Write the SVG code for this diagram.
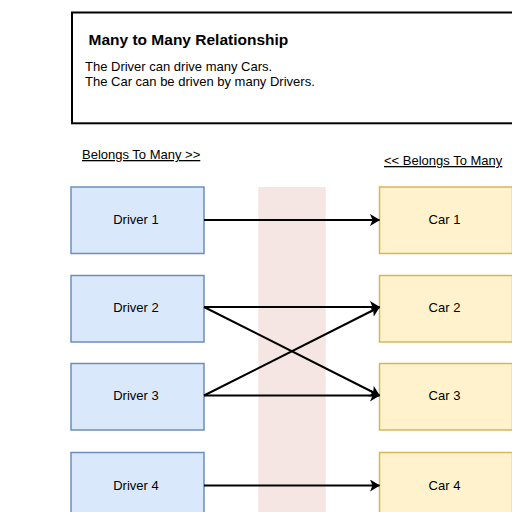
<svg xmlns="http://www.w3.org/2000/svg" width="512" height="512" viewBox="0 0 512 512">
<defs>
<style>
text{font-family:"Liberation Sans",Arial,sans-serif;fill:#000}
.lbl{font-size:13px;text-anchor:middle}
.drv{fill:#dae8fc;stroke:#6c8ebf;stroke-width:1.5}
.car{fill:#fff2cc;stroke:#d6b656;stroke-width:1.5}
.edge{fill:none;stroke:#000;stroke-width:2;marker-end:url(#arr)}
</style>
<marker id="arr" viewBox="0 0 10 12" refX="9.5" refY="6" markerWidth="10" markerHeight="12" markerUnits="userSpaceOnUse" orient="auto">
<path d="M0,0 L10,6 L0,12 L2.5,6 Z" fill="#000"/>
</marker>
</defs>
<rect x="0" y="0" width="512" height="512" fill="#fff"/>
<g id="band"><rect x="258.3" y="187" width="67.4" height="330" fill="#f5e6e3"/></g>
<g id="title">
<rect x="72" y="12.5" width="450" height="110.8" fill="#fff" stroke="#000" stroke-width="2"/>
<text x="88.5" y="45" font-size="15.5px" font-weight="bold">Many to Many Relationship</text>
<text x="85" y="71" font-size="13px">The Driver can drive many Cars.</text>
<text x="85" y="86" font-size="13px">The Car can be driven by many Drivers.</text>
</g>
<g id="label-left"><text x="82" y="159" font-size="13px" text-decoration="underline">Belongs To Many &gt;&gt;</text></g>
<g id="label-right"><text x="384" y="165" font-size="13px" text-decoration="underline">&lt;&lt; Belongs To Many</text></g>
<g id="driver1"><rect class="drv" x="71" y="187" width="133" height="66.5"/><text class="lbl" x="136" y="224">Driver 1</text></g>
<g id="driver2"><rect class="drv" x="71" y="275.5" width="133" height="66.5"/><text class="lbl" x="136" y="311.5">Driver 2</text></g>
<g id="driver3"><rect class="drv" x="71" y="363.5" width="133" height="66.5"/><text class="lbl" x="136" y="399.5">Driver 3</text></g>
<g id="driver4"><rect class="drv" x="71" y="452.5" width="133" height="66.5"/><text class="lbl" x="136" y="489.5">Driver 4</text></g>
<g id="car1"><rect class="car" x="379.5" y="187" width="133" height="66.5"/><text class="lbl" x="444.5" y="224">Car 1</text></g>
<g id="car2"><rect class="car" x="379.5" y="275.5" width="133" height="66.5"/><text class="lbl" x="444.5" y="311.5">Car 2</text></g>
<g id="car3"><rect class="car" x="379.5" y="363.5" width="133" height="66.5"/><text class="lbl" x="444.5" y="399.5">Car 3</text></g>
<g id="car4"><rect class="car" x="379.5" y="452.5" width="133" height="66.5"/><text class="lbl" x="444.5" y="489.5">Car 4</text></g>
<g id="connectors">
<path class="edge" d="M204,220 L379.5,220"/>
<path class="edge" d="M204,307 L379.5,307"/>
<path class="edge" d="M204,307 L379.5,395.5"/>
<path class="edge" d="M204,395.5 L379.5,307"/>
<path class="edge" d="M204,395.5 L379.5,395.5"/>
<path class="edge" d="M204,485.5 L379.5,485.5"/>
</g>
</svg>
